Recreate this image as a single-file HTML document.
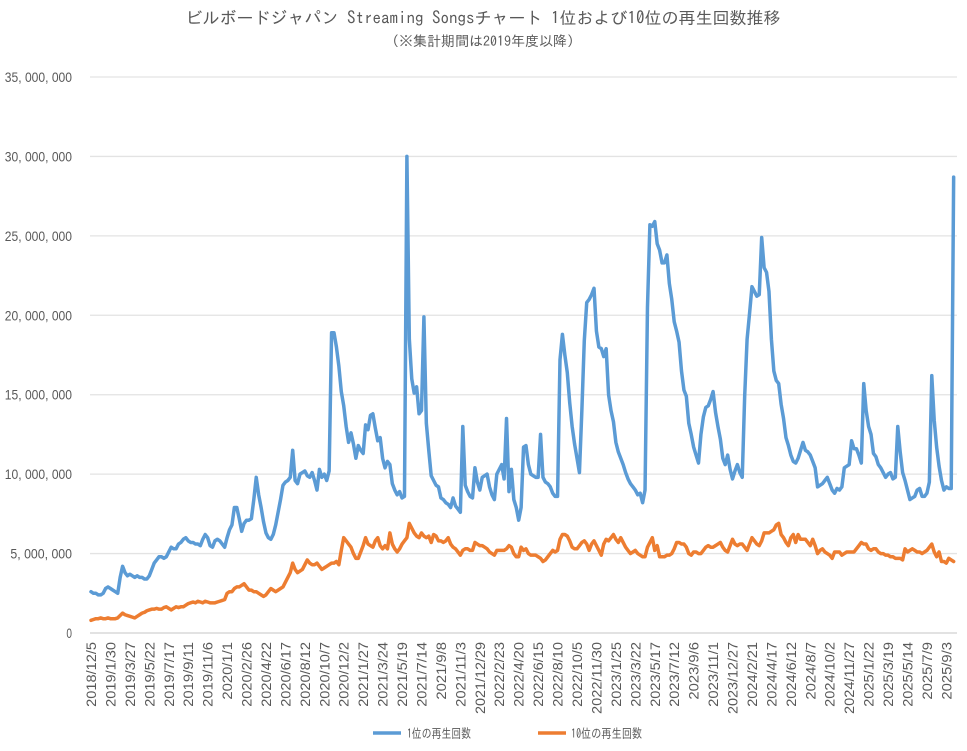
<!DOCTYPE html>
<html><head><meta charset="utf-8"><style>
html,body{margin:0;padding:0;background:#fff;}
svg{display:block;font-family:"Liberation Sans","Noto Sans CJK JP",sans-serif;}
</style></head><body>
<svg id="chart" width="967" height="751" viewBox="0 0 967 751" xmlns="http://www.w3.org/2000/svg">
<text x="483" y="24" text-anchor="middle" font-size="17" fill="#595959" font-family="IPAGothic, 'Noto Sans CJK JP', sans-serif">ビルボードジャパン Streaming Songsチャート 1位および10位の再生回数推移</text>
<text x="483" y="46" text-anchor="middle" font-size="14" fill="#595959" font-family="IPAGothic, 'Noto Sans CJK JP', sans-serif">（※集計期間は2019年度以降）</text>
<g id="grid"></g><g id="yl"></g><g id="xl"></g><g id="series"></g>
<g>
<g><line x1="373" y1="733" x2="401" y2="733" stroke="#5b9bd5" stroke-width="3.5"/><text x="407" y="738" font-size="13" fill="#595959" textLength="64" lengthAdjust="spacingAndGlyphs" font-family="IPAGothic, 'Noto Sans CJK JP', sans-serif">1位の再生回数</text></g>
<g><line x1="538" y1="733" x2="566" y2="733" stroke="#ed7d31" stroke-width="3.5"/><text x="571" y="738" font-size="13" fill="#595959" textLength="71" lengthAdjust="spacingAndGlyphs" font-family="IPAGothic, 'Noto Sans CJK JP', sans-serif">10位の再生回数</text></g>
</g>
</svg>
<script>
const startDate = [2018, 12, 5];
const yTicks = [0, 5, 10, 15, 20, 25, 30, 35];
const yTickLabels = ["0","5, 000, 000","10, 000, 000","15, 000, 000","20, 000, 000","25, 000, 000","30, 000, 000","35, 000, 000"];
const first = [2.6,2.5,2.5,2.4,2.4,2.5,2.8,2.9,2.8,2.7,2.6,2.5,3.5,4.2,3.8,3.6,3.7,3.6,3.5,3.6,3.5,3.5,3.4,3.4,3.6,4.0,4.4,4.6,4.8,4.8,4.7,4.8,5.1,5.4,5.3,5.3,5.6,5.7,5.9,6.0,5.8,5.7,5.7,5.6,5.6,5.5,5.9,6.2,6.0,5.5,5.4,5.8,5.9,5.8,5.6,5.4,6.0,6.5,6.8,7.9,
7.9,7.2,6.4,6.9,7.1,7.1,7.2,8.4,9.8,8.7,7.9,7.0,6.3,6.0,5.9,6.2,6.8,7.6,8.4,9.3,9.5,9.6,9.8,11.5,9.6,9.4,10.0,10.1,10.2,9.9,9.8,10.1,9.6,9.0,10.3,9.8,10.0,9.6,10.2,18.9,18.9,18.0,16.8,15.2,14.3,13.0,12.0,12.6,11.9,11.0,11.8,11.5,11.3,13.1,12.8,13.7,13.8,12.9,12.1,
12.3,11.0,10.4,10.8,10.6,9.4,9.0,8.7,8.9,8.5,8.6,30.0,18.5,16.0,15.1,15.5,13.8,14.0,19.9,13.2,11.5,9.9,9.6,9.3,9.2,8.5,8.4,8.2,8.1,7.9,8.5,8.0,7.8,7.6,13.0,9.3,8.9,8.6,8.5,10.4,9.5,9.0,9.8,9.9,10.0,9.2,8.7,8.4,10.0,10.3,10.6,9.7,13.5,8.9,10.3,8.4,7.9,7.1,7.9,11.7,
11.8,10.6,10.0,9.9,9.8,9.8,12.5,9.8,9.5,9.4,9.2,8.8,8.6,8.6,17.2,18.8,17.5,16.4,14.5,13.0,11.9,11.0,10.1,14.0,18.4,20.8,21.0,21.3,21.7,19.0,18.0,17.9,17.4,17.9,15.0,14.0,13.3,12.0,11.4,11.0,10.6,10.1,9.7,9.4,9.2,9.0,8.7,8.8,8.2,9.0,20.5,25.7,25.6,25.9,24.5,24.1,23.3,23.3,23.8,22.0,
21.0,19.6,19.0,18.3,16.5,15.3,14.9,13.2,12.5,11.7,11.2,10.7,12.5,13.6,14.2,14.3,14.7,15.2,13.9,13.0,12.2,11.0,10.6,11.2,10.3,9.7,10.2,10.6,10.1,9.8,14.9,18.5,20.1,21.8,21.5,21.2,21.3,24.9,23.0,22.7,21.5,18.5,16.5,15.9,15.7,14.4,13.5,12.3,11.8,11.2,10.8,10.7,11.0,11.5,12.0,11.5,11.4,11.2,10.8,
10.4,9.2,9.3,9.4,9.6,9.8,9.4,9.0,8.8,9.1,9.0,9.2,10.4,10.5,10.6,12.1,11.6,11.6,11.2,10.7,15.7,14.0,13.0,12.5,11.3,11.1,10.6,10.4,10.1,9.8,10.0,10.1,9.7,9.8,13.0,11.4,10.1,9.6,9.0,8.4,8.5,8.6,9.0,9.1,8.6,8.6,8.8,9.5,16.2,13.4,11.7,10.5,9.6,9.0,9.2,9.1,9.1,28.7];
const tenth = [0.8,0.85,0.9,0.9,0.95,0.9,0.9,0.95,0.9,0.9,0.9,0.95,1.1,1.25,1.15,1.1,1.05,1.0,0.95,1.05,1.15,1.25,1.3,1.4,1.45,1.5,1.5,1.55,1.5,1.5,1.6,1.65,1.55,1.45,1.55,1.65,1.6,1.65,1.65,1.75,1.85,1.9,1.95,1.9,2.0,1.95,1.9,2.0,1.95,1.9,1.9,1.9,1.95,2.0,2.05,2.1,2.5,2.6,2.6,2.8,
2.9,2.9,3.0,3.1,2.9,2.7,2.7,2.6,2.6,2.5,2.4,2.3,2.4,2.6,2.8,2.7,2.6,2.7,2.8,2.9,3.2,3.5,3.8,4.4,4.0,3.8,3.9,4.0,4.3,4.6,4.4,4.3,4.3,4.4,4.2,4.0,4.1,4.2,4.3,4.4,4.4,4.5,4.3,5.2,6.0,5.8,5.6,5.4,5.0,4.7,4.7,5.1,5.5,6.0,5.6,5.5,5.4,5.8,6.0,
5.5,5.3,5.5,5.3,6.3,5.6,5.3,5.1,5.3,5.6,5.8,6.0,6.9,6.6,6.3,6.1,6.0,6.3,6.1,6.0,6.1,5.7,6.2,6.1,5.8,5.8,5.7,5.8,6.0,5.6,5.4,5.3,5.1,4.9,5.2,5.3,5.3,5.2,5.2,5.7,5.6,5.5,5.5,5.4,5.3,5.1,5.0,4.9,5.2,5.2,5.2,5.2,5.3,5.5,5.4,5.0,4.8,4.8,5.4,5.2,
5.3,5.0,4.9,4.9,4.9,4.8,4.7,4.5,4.6,4.8,5.0,5.2,5.1,5.2,5.9,6.2,6.2,6.1,5.8,5.4,5.3,5.3,5.5,5.7,5.8,5.6,5.2,5.6,5.8,5.5,5.2,4.9,5.6,5.9,5.8,6.0,6.2,5.9,5.7,6.0,5.7,5.4,5.2,5.0,5.1,5.2,5.0,4.9,4.8,4.8,5.4,5.7,6.0,5.2,5.5,4.8,4.8,4.8,4.9,4.9,
5.0,5.3,5.7,5.7,5.6,5.6,5.4,5.0,4.9,5.1,5.1,5.0,5.0,5.2,5.4,5.5,5.4,5.4,5.5,5.6,5.7,5.4,5.2,5.1,5.5,5.9,5.6,5.5,5.6,5.6,5.4,5.2,5.6,6.0,5.8,5.6,5.5,5.8,6.3,6.3,6.3,6.4,6.5,6.8,6.9,6.2,6.0,5.7,5.5,6.0,6.2,5.7,6.2,5.9,5.9,5.9,5.7,5.5,5.9,
5.5,5.0,5.2,5.3,5.1,5.0,4.9,4.7,5.1,5.1,5.1,4.9,5.0,5.1,5.1,5.1,5.1,5.3,5.5,5.7,5.6,5.6,5.3,5.2,5.3,5.3,5.1,5.0,5.0,4.9,4.9,4.8,4.8,4.7,4.7,4.7,4.6,5.3,5.1,5.2,5.3,5.2,5.1,5.1,5.0,5.1,5.2,5.4,5.6,5.1,4.8,5.1,4.5,4.5,4.4,4.7,4.6,4.5];

const NS = "http://www.w3.org/2000/svg";
const X0 = 91, STEP = 2.43, Y0 = 633, PXM = (633 - 77) / 35;
function xScale(i){ return X0 + i * STEP; }
function yScale(v){ return Y0 - v * PXM; }
const N = first.length;
const categories = [];
(function(){
  const d = new Date(startDate[0], startDate[1]-1, startDate[2]);
  for (let i = 0; i < N; i++) {
    categories.push(d.getFullYear() + "/" + (d.getMonth()+1) + "/" + d.getDate());
    d.setDate(d.getDate() + 7);
  }
})();
function mk(tag, attrs, parent){ const e = document.createElementNS(NS, tag); for (const k in attrs) e.setAttribute(k, attrs[k]); parent.appendChild(e); return e; }
const grid = document.getElementById("grid"), yl = document.getElementById("yl"), xl = document.getElementById("xl"), ser = document.getElementById("series");
yTicks.forEach((t, k) => {
  const ln = mk("line", {x1: 90, x2: 957, y1: yScale(t), y2: yScale(t), stroke: t === 0 ? "#d0d0d0" : "#e3e3e3", "stroke-width": 1.3}, grid);
  
  
  const tx = mk("text", {x: 72, y: yScale(t) + 5, "text-anchor": "end", "font-size": 14, fill: "#595959"}, yl);
  tx.textContent = yTickLabels[k];
  const w = yTickLabels[k].length * 5.6;
  tx.setAttribute("textLength", w); tx.setAttribute("lengthAdjust", "spacingAndGlyphs");
  
  
});
for (let i = 0; i < N; i += 8) {
  const x = xScale(i) + 5, y = 642;
  const tx = mk("text", {x: x, y: y, "text-anchor": "end", "font-size": 14, fill: "#595959", transform: "rotate(-90 " + x + " " + y + ")"}, xl);
  tx.textContent = categories[i];
  tx.setAttribute("textLength", categories[i].length * 7.2); tx.setAttribute("lengthAdjust", "spacingAndGlyphs");
  
  
}
function drawLine(vals, color, name){
  const d = vals.map((v, i) => (i ? "L" : "M") + xScale(i).toFixed(2) + " " + yScale(v).toFixed(2)).join(" ");
  const p = mk("path", {d: d, fill: "none", stroke: color, "stroke-width": 3.5, "stroke-linejoin": "round", "stroke-linecap": "round"}, ser);
  
  
}
drawLine(tenth, "#ed7d31", "series-10th-line");
drawLine(first, "#5b9bd5", "series-1st-line");
</script>
</body></html>
